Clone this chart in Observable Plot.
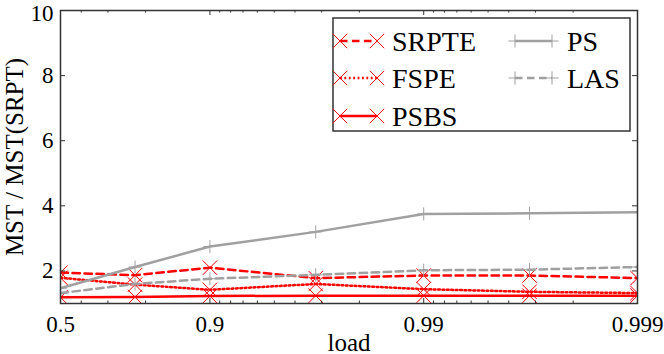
<!DOCTYPE html>
<html><head><meta charset="utf-8">
<script src="https://cdn.jsdelivr.net/npm/d3@7"></script>
<script src="https://cdn.jsdelivr.net/npm/@observablehq/plot@0.6"></script>
<style>body{margin:0}</style>
</head><body><div id="chart"></div>
<script>
// ---- data ----
const loads = [0.5, 0.776, 0.9, 0.968, 0.99, 0.9968, 0.999];
const SRPTE = [1.95, 1.87, 2.1, 1.78, 1.86, 1.86, 1.78];
const FSPE  = [1.79, 1.58, 1.42, 1.6, 1.44, 1.36, 1.32];
const PSBS  = [1.19, 1.2, 1.23, 1.24, 1.24, 1.24, 1.24];
const PS    = [1.47, 2.12, 2.75, 3.2, 3.75, 3.77, 3.8];
const LAS   = [1.32, 1.6, 1.76, 1.88, 2.02, 2.04, 2.12];
const seriesNames = ["SRPTE", "FSPE", "PSBS", "PS", "LAS"];
const seriesValues = [SRPTE, FSPE, PSBS, PS, LAS];
const xTickLoads = [0.5, 0.9, 0.99, 0.999];
const xTickLabels = ["0.5", "0.9", "0.99", "0.999"];
const yTicks = [2, 4, 6, 8, 10];
const xLabel = "load";
const yLabel = "MST / MST(SRPT)";

// ---- styles ----
const FONT = "Liberation Serif";
const styles = {
  SRPTE: {stroke: "#ff0000", dash: "7.5,4.5", symbol: "times"},
  FSPE:  {stroke: "#ff0000", dash: "1.8,2.6", symbol: "times"},
  PSBS:  {stroke: "#ff0000", dash: null, symbol: "times"},
  PS:    {stroke: "#a0a0a0", dash: null, symbol: "plus"},
  LAS:   {stroke: "#a0a0a0", dash: "7.5,4.5", symbol: "plus"}
};
const W = 664, H = 354, mL = 60, mR = 27, mT = 10, mB = 51;
const fw = W - mL - mR, fh = H - mT - mB;
const T = l => 1 / (1 - l);
const labelMap = new Map(xTickLoads.map((l, i) => [Math.round(T(l)), xTickLabels[i]]));
const rows = seriesNames.flatMap((s, i) => loads.map((l, j) => ({series: s, load: l, v: seriesValues[i][j]})));

const minorLoads = [];
for (const k of [1, 2, 3]) for (let m = 2; m <= 9; m++) {
  const l = 1 - m * Math.pow(10, -k);
  if (l > 0.5 && l < 0.999) minorLoads.push(l);
}

const seriesMarks = seriesNames.flatMap(s => {
  const st = styles[s];
  const d = rows.filter(r => r.series === s);
  return [
    Plot.lineY(d, {x: r => T(r.load), y: "v", stroke: st.stroke, strokeWidth: 2.5,
      strokeDasharray: st.dash, clip: true}),
    Plot.dot(d, {x: r => T(r.load), y: "v", symbol: st.symbol, r: st.symbol === "times" ? 6.6 : 4.3,
      stroke: st.stroke, strokeWidth: 1, fill: "none", clip: true})
  ];
});

const chart = Plot.plot({
  width: W, height: H,
  marginLeft: mL, marginRight: mR, marginTop: mT, marginBottom: mB,
  style: {fontFamily: FONT, fontSize: "23px"},
  x: {type: "log", domain: [2, 1000], ticks: xTickLoads.map(T), tickFormat: d => labelMap.get(Math.round(d)),
      tickSize: 0, tickPadding: 12, label: xLabel, labelAnchor: "center", labelArrow: "none", labelOffset: 47},
  y: {domain: [1, 10]},
  marks: [
    ...seriesMarks,
    Plot.axisY(yTicks.filter(t => t !== 10), {tickSize: 0, tickPadding: 7,
      label: yLabel, labelAnchor: "center", labelArrow: "none", labelOffset: 55}),
    Plot.axisY(yTicks.filter(t => t === 10), {tickSize: 0, tickPadding: 7, dy: 3, label: null}),
    Plot.ruleX(xTickLoads, {x: T, insetTop: fh - 5, stroke: "#333"}),
    Plot.ruleX(xTickLoads, {x: T, insetBottom: fh - 5, stroke: "#333"}),
    Plot.ruleX(minorLoads, {x: T, insetTop: fh - 2.5, stroke: "#333"}),
    Plot.ruleX(minorLoads, {x: T, insetBottom: fh - 2.5, stroke: "#333"}),
    Plot.ruleY(yTicks, {y: d => d, insetRight: fw - 5, stroke: "#333"}),
    Plot.ruleY(yTicks, {y: d => d, insetLeft: fw - 5, stroke: "#333"}),
    Plot.frame({stroke: "#333", strokeWidth: 1.5})
  ]
});
document.getElementById("chart").appendChild(chart);

const svg = d3.select(chart);
svg.selectAll('[aria-label="x-axis label"], [aria-label="y-axis label"]').attr("font-size", 25);

// ---- legend ----
const lg = svg.append("g").attr("font-size", 28).attr("text-anchor", "start");
lg.append("rect").attr("x", 333).attr("y", 18).attr("width", 297).attr("height", 113)
  .attr("fill", "#fff").attr("stroke", "#333").attr("stroke-width", 1.5);
const pos = [[340, 41], [340, 78], [340, 116], [515, 41], [515, 78]];
seriesNames.forEach((s, i) => {
  const st = styles[s];
  const [x0, y0] = pos[i];
  const x1 = x0 + 37;
  lg.append("line").attr("x1", x0).attr("x2", x1).attr("y1", y0).attr("y2", y0)
    .attr("stroke", st.stroke).attr("stroke-width", 2.5).attr("stroke-dasharray", st.dash);
  const sym = st.symbol === "times" ? d3.symbolTimes : d3.symbolPlus;
  const size = st.symbol === "times" ? Math.PI * 6.6 * 6.6 : Math.PI * 4.3 * 4.3;
  for (const xx of [x0, x1]) {
    lg.append("path").attr("d", d3.symbol(sym, size)()).attr("transform", `translate(${xx},${y0})`)
      .attr("fill", "none").attr("stroke", st.stroke).attr("stroke-width", 1);
  }
  lg.append("text").attr("x", x1 + 15).attr("y", y0).attr("dy", "0.35em").attr("font-family", FONT).text(s);
});
</script></body></html>
